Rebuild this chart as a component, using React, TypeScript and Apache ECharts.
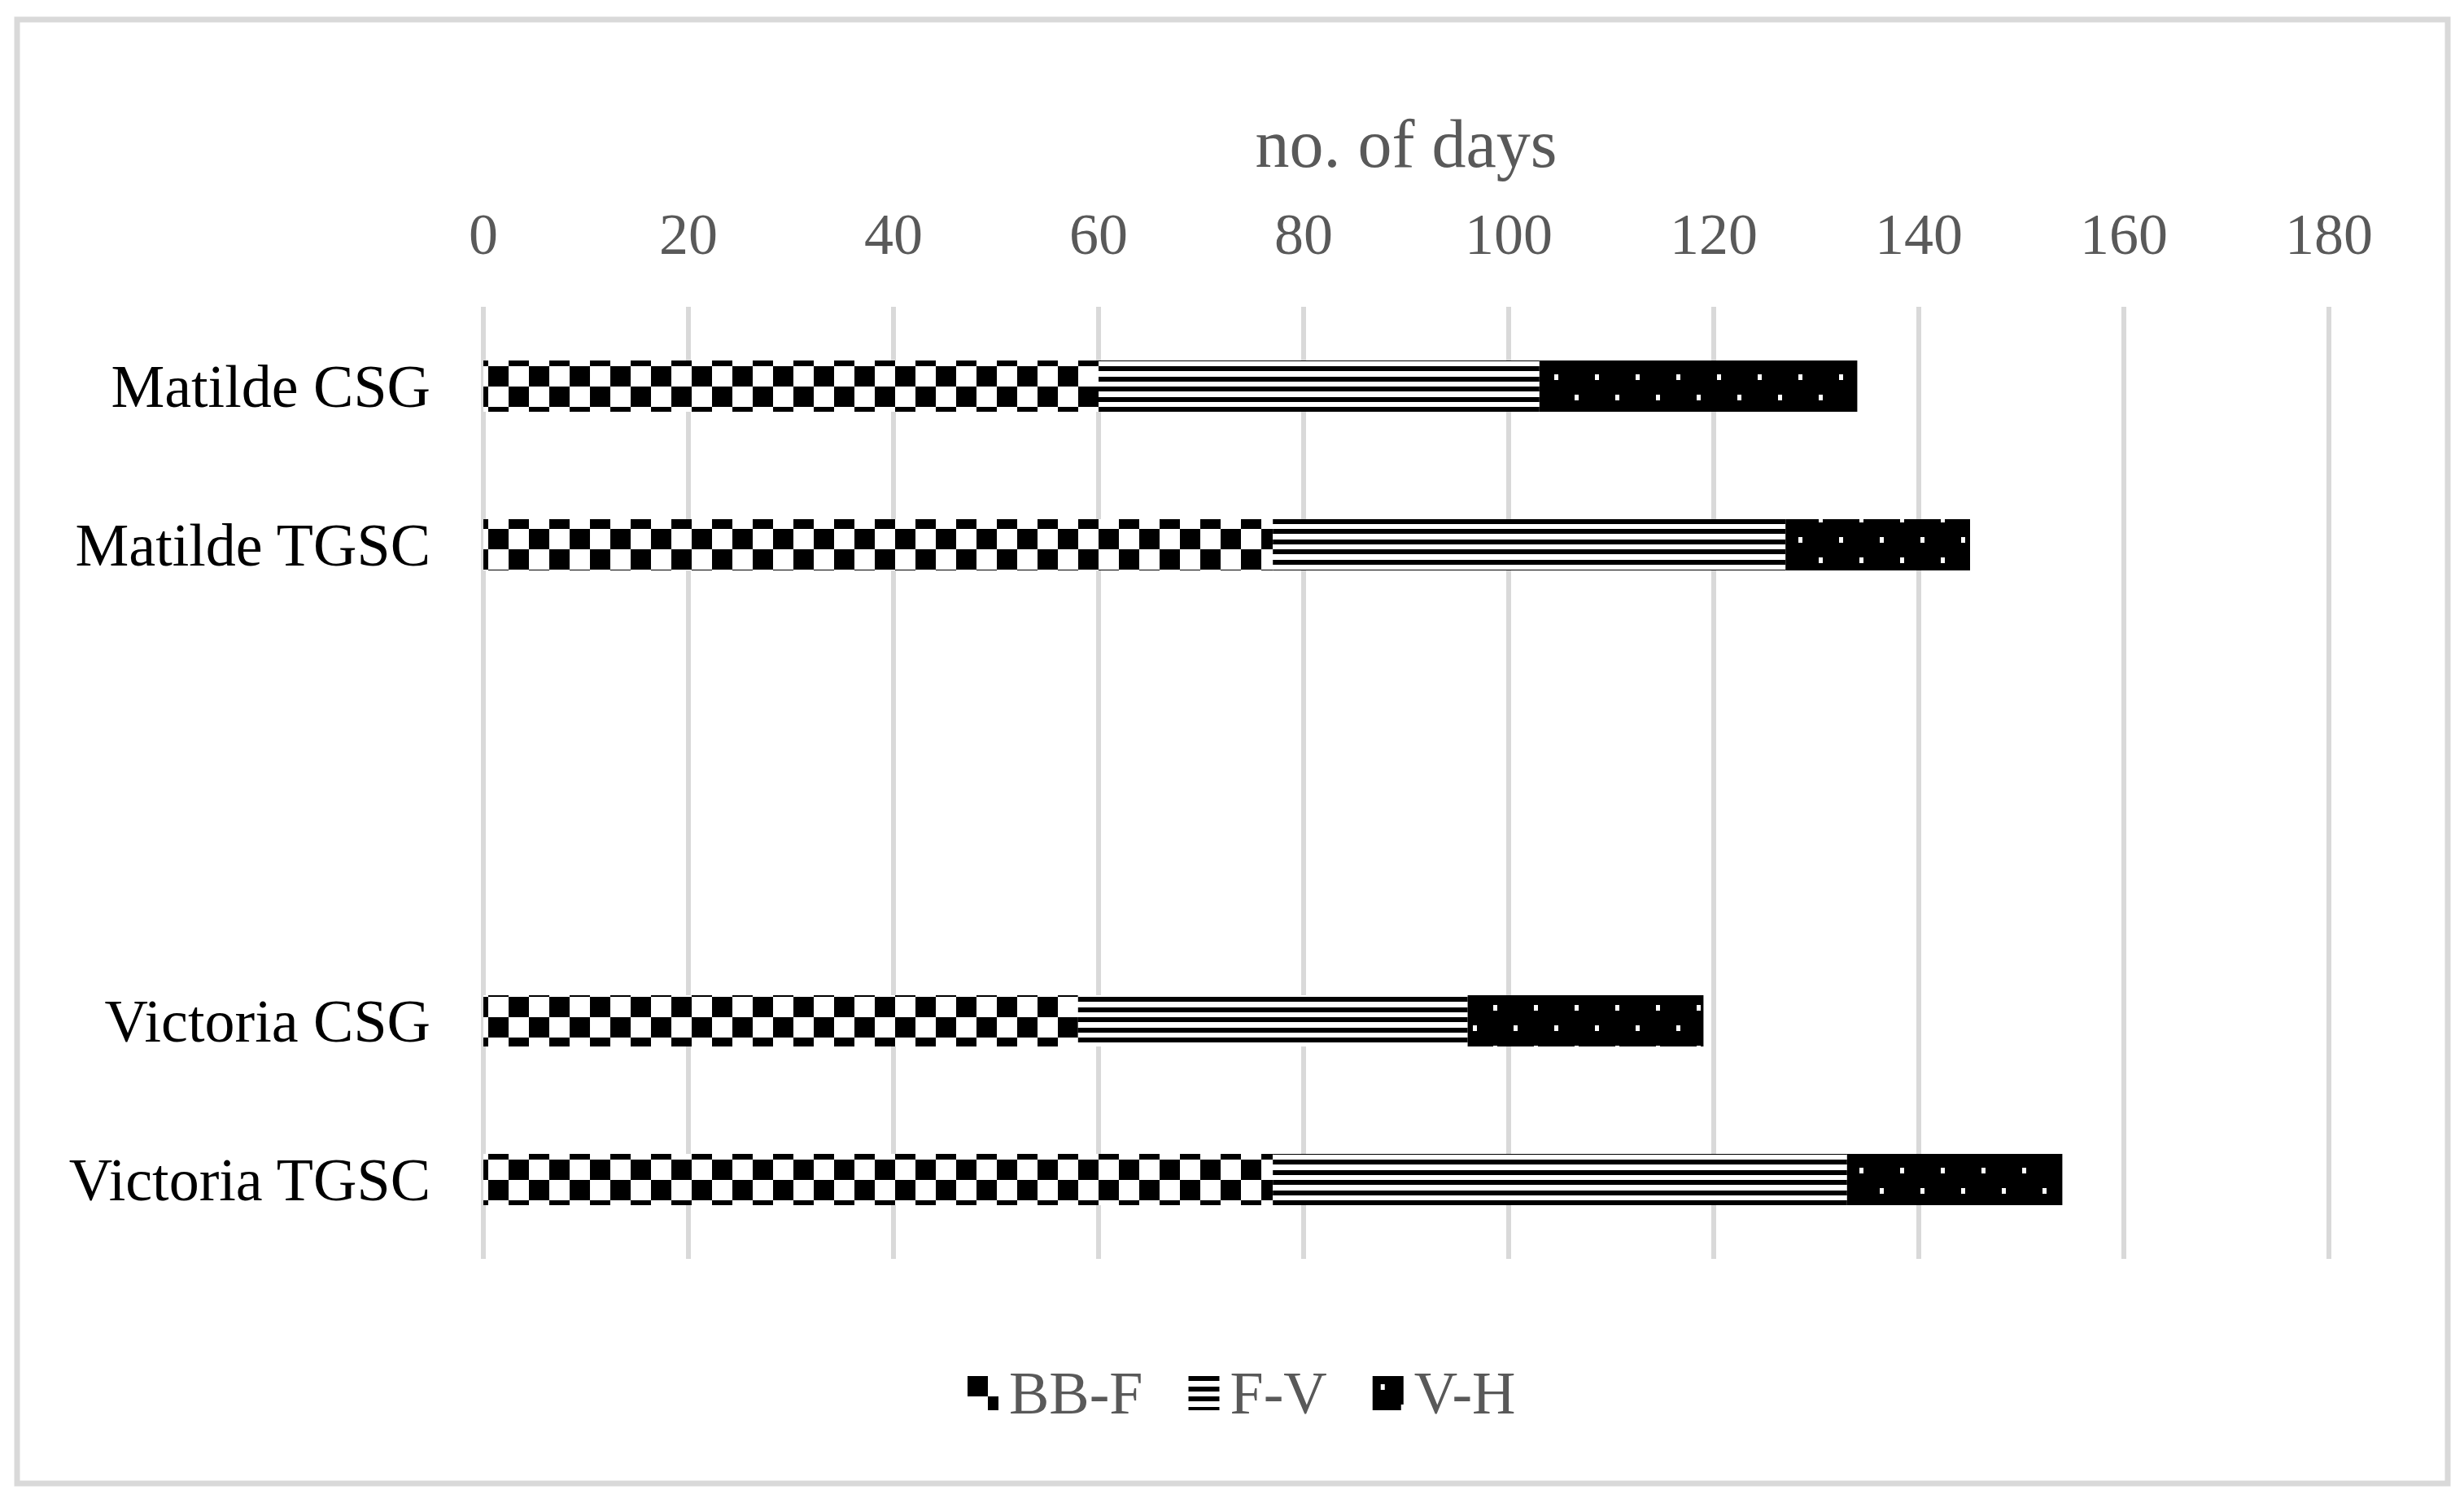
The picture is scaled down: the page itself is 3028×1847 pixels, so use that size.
import React, { useEffect, useRef } from "react";
import * as echarts from "echarts";

const categories = ["Matilde CSG", "Matilde TGSC", "", "", "Victoria CSG", "Victoria TGSC"];
const seriesNames = ["BB-F", "F-V", "V-H"];
const bbF = [60, 77, null, null, 58, 77];
const fV = [43, 50, null, null, 38, 56];
const vH = [31, 18, null, null, 23, 21];
const xTicks = { min: 0, max: 180, interval: 20 };

const FONT = "'Liberation Serif', 'Times New Roman', serif";
const TEXT = "#595959";

function makeChecker() {
  const c = document.createElement("canvas");
  c.width = 50;
  c.height = 50;
  const g = c.getContext("2d")!;
  g.fillStyle = "#fff";
  g.fillRect(0, 0, 50, 50);
  g.fillStyle = "#000";
  g.fillRect(0, 0, 25, 25);
  g.fillRect(25, 25, 25, 25);
  return c;
}
function makeStripes() {
  const c = document.createElement("canvas");
  c.width = 25;
  c.height = 25;
  const g = c.getContext("2d")!;
  g.fillStyle = "#fff";
  g.fillRect(0, 0, 25, 25);
  g.fillStyle = "#000";
  g.fillRect(0, 0, 25, 6);
  g.fillRect(0, 13, 25, 6);
  return c;
}
function makeDots() {
  const c = document.createElement("canvas");
  c.width = 50;
  c.height = 50;
  const g = c.getContext("2d")!;
  g.fillStyle = "#000";
  g.fillRect(0, 0, 50, 50);
  g.fillStyle = "#fff";
  g.fillRect(10, 10, 5, 7);
  g.fillRect(35, 35, 5, 7);
  return c;
}

export default function App() {
  const ref = useRef<HTMLDivElement>(null);
  useEffect(() => {
    document.body.style.margin = "0";
    const chart = echarts.init(ref.current!, null, { renderer: "svg" });
    const patterns = [makeChecker(), makeStripes(), makeDots()];
    const values = [bbF, fV, vH];
    chart.setOption({
      animation: false,
      backgroundColor: "#fff",
      textStyle: { fontFamily: FONT },
      grid: { left: 594, right: 166, top: 377, bottom: 300 },
      graphic: [
        {
          type: "rect",
          shape: { x: 21, y: 24, width: 2987, height: 1799 },
          style: { fill: "none", stroke: "#d9d9d9", lineWidth: 7 },
          silent: true,
        },
      ],
      legend: {
        left: 1184,
        top: 1670,
        itemWidth: 38,
        itemHeight: 42,
        itemGap: 56,
        icon: "rect",
        selectedMode: false,
        textStyle: { fontSize: 74, color: TEXT, fontFamily: FONT, padding: [0, 0, 0, 8] },
        data: seriesNames,
      },
      xAxis: {
        type: "value",
        position: "top",
        min: xTicks.min,
        max: xTicks.max,
        interval: xTicks.interval,
        name: "no. of days",
        nameLocation: "middle",
        nameGap: 159,
        nameTextStyle: { fontSize: 84, color: TEXT, fontFamily: FONT },
        axisLine: { show: false },
        axisTick: { show: false },
        axisLabel: { fontSize: 72, color: TEXT, fontFamily: FONT, margin: 53 },
        splitLine: { show: true, lineStyle: { color: "#d9d9d9", width: 6 } },
      },
      yAxis: {
        type: "category",
        inverse: true,
        data: categories,
        axisLine: { show: false },
        axisTick: { show: false },
        axisLabel: { fontSize: 74, color: "#000", fontFamily: FONT, margin: 65 },
      },
      series: seriesNames.map((name, i) => ({
        name,
        type: "bar",
        stack: "total",
        barWidth: 63,
        silent: true,
        itemStyle: { color: { image: patterns[i], repeat: "repeat" } },
        data: values[i],
      })),
    });
    return () => chart.dispose();
  }, []);
  return <div ref={ref} style={{ position: "absolute", left: 0, top: 0, width: 3028, height: 1847 }} />;
}
